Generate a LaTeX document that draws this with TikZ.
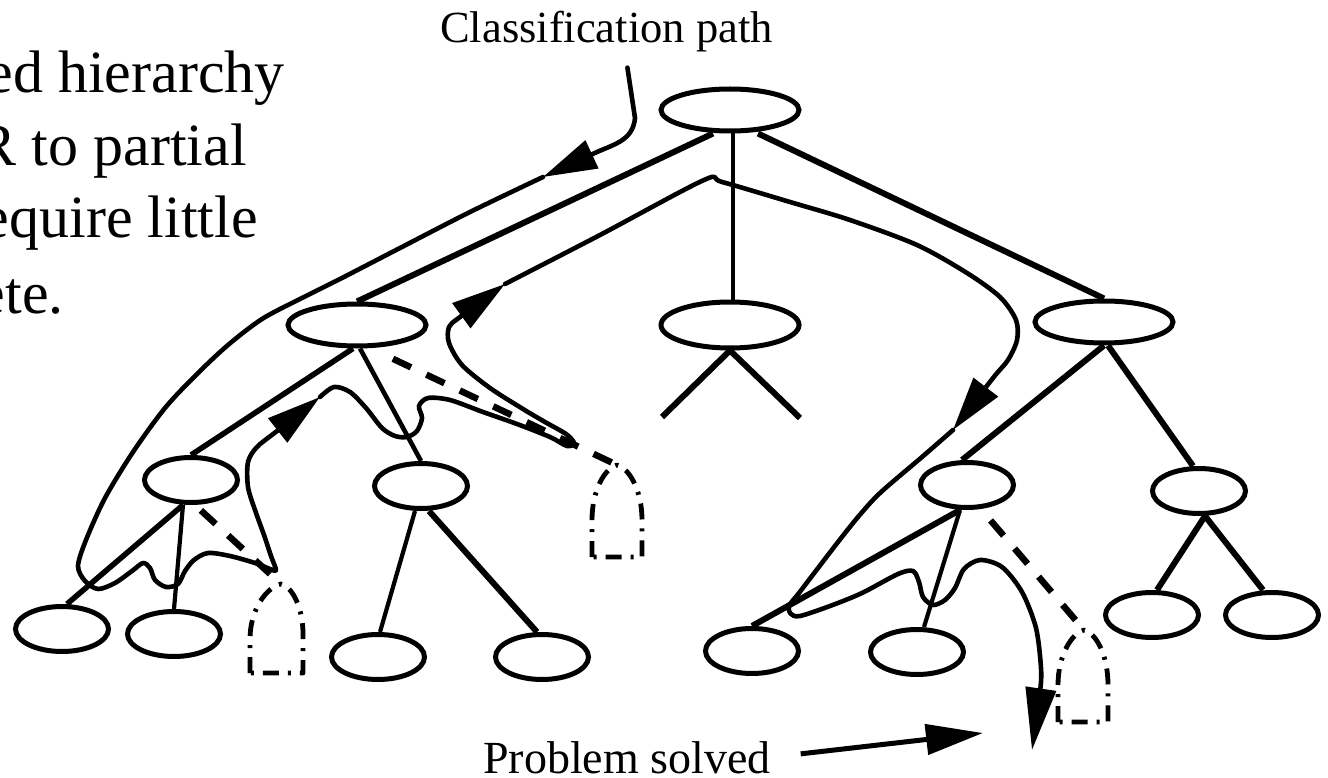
\documentclass[tikz,border=0pt]{standalone}
\usepackage{fontspec}
\setmainfont{Liberation Serif}
\usetikzlibrary{shapes.geometric,arrows.meta}

\begin{document}
\begin{tikzpicture}[x=1pt,y=-1pt,
  bignode/.style={ellipse, draw, fill=white, line width=5pt, minimum width=138pt, minimum height=42pt, inner sep=0pt},
  smallnode/.style={ellipse, draw, fill=white, line width=5pt, minimum width=93pt, minimum height=45pt, inner sep=0pt},
  thickedge/.style={line width=6pt},
  thinedge/.style={line width=4.2pt},
  prunededge/.style={line width=6.5pt, dash pattern=on 20pt off 17pt},
  deadoutline/.style={line width=4.8pt, line join=round, dash pattern=on 16pt off 9pt on 3pt off 9pt},
  trail/.style={line width=4.6pt, line join=round, line cap=round},
  trailtip/.style={-{Triangle[length=54pt,width=30pt]}},
  endtip/.style={-{Triangle[length=62pt,width=30pt]}},
  bigtext/.style={inner sep=0pt, font=\fontsize{60}{72}\selectfont},
  smalltext/.style={inner sep=0pt, anchor=base west}
]
\useasboundingbox (0,0) rectangle (1328,778);
\clip (0,0) rectangle (1328,778);
\fill[white] (0,0) rectangle (1328,778);

% running text at the left edge
\node[bigtext, anchor=base east] (t1) at (285,93) {ed hierarchy};
\node[bigtext, anchor=base east] (t2) at (247,166) {R to partial};
\node[bigtext, anchor=base east] (t3) at (258,238) {equire little};
\node[bigtext, anchor=base east] (t4) at (64,313) {ete.};

% labels
\node[smalltext, font=\fontsize{44.5}{50}\selectfont] (cp) at (440,43) {Classification path};
\node[smalltext, font=\fontsize{46}{52}\selectfont] (ps) at (483,773) {Problem solved};

% tree nodes
\node[bignode] (root) at (730,110) {};
\node[bignode] (A) at (357,325) {};
\node[bignode, minimum height=46pt] (M) at (730,325) {};
\node[bignode] (R) at (1104,322) {};
\node[smallnode] (B) at (191,480) {};
\node[smallnode] (C) at (421,486) {};
\node[smallnode] (D) at (967,485) {};
\node[smallnode] (E) at (1199,491) {};
\node[smallnode] (l1) at (62,629) {};
\node[smallnode] (l2) at (174,634) {};
\node[smallnode] (l3) at (378,657) {};
\node[smallnode] (l4) at (542,657) {};
\node[smallnode] (l5) at (752,651) {};
\node[smallnode] (l6) at (917,652) {};
\node[smallnode] (l7) at (1152,615) {};
\node[smallnode] (l8) at (1272,615) {};

% loose ends and unexplored branches
\coordinate (m1) at (662,417);
\coordinate (m2) at (800,418);
\coordinate (x1) at (281,584);
\coordinate (x2) at (617,465);
\coordinate (x3) at (1084,630);
\coordinate (solvedtip) at (983,733);

% tree edges
\draw[thickedge] ([xshift=-17pt]root.south) -- (A.north);
\draw[thinedge] ([xshift=3pt]root.south) -- ([xshift=3pt]M.north);
\draw[thickedge] ([xshift=28pt]root.south) -- (R.north);
\draw[thickedge] (M.south) -- (m1);
\draw[thickedge] (M.south) -- (m2);
\draw[line width=5.5pt] ([xshift=-4pt]A.south) -- (B.north);
\draw[line width=4.6pt] ([xshift=3pt]A.south) -- (C.north);
\draw[line width=5.5pt] ([xshift=-8pt]B.south) -- ([xshift=5pt]l1.north);
\draw[thinedge] ([xshift=-8pt]B.south) -- (l2.north);
\draw[thinedge] ([xshift=-6pt]C.south) -- ([xshift=2pt]l3.north);
\draw[thickedge] ([xshift=8pt]C.south) -- ([xshift=-5pt]l4.north);
\draw[thickedge] (R.south) -- ([xshift=-5pt]D.north);
\draw[thickedge] ([xshift=4pt]R.south) -- ([xshift=-6pt]E.north);
\draw[thickedge] ([xshift=-7pt]D.south) -- (l5.north);
\draw[thinedge] ([xshift=-7pt]D.south) -- ([xshift=7pt]l6.north);
\draw[thickedge] ([xshift=6pt]E.south) -- ([xshift=5pt]l7.north);
\draw[thickedge] ([xshift=6pt]E.south) -- ([xshift=-9pt]l8.north);

% pruned branches
\draw[prunededge, shorten <=8pt, shorten >=14pt] ([xshift=4pt]B.south) -- (x1);
\draw[prunededge, shorten <=25pt, shorten >=4pt] (A.-60) -- (x2);
\draw[prunededge, shorten <=15pt, shorten >=12pt] (D.-60) -- (x3);

\draw[deadoutline, shift={(x1)}] (-31,89) -- (-31,55) .. controls (-31,25) and (-14,3) .. (0,0)
  .. controls (12,3) and (22,25) .. (22,50) -- (22,89) -- cycle;
\draw[deadoutline, shift={(x2)}] (-25,92) -- (-25,55) .. controls (-25,25) and (-12,3) .. (0,0)
  .. controls (12,3) and (25,25) .. (25,55) -- (25,92) -- cycle;
\draw[deadoutline, shift={(x3)}] (-26,92) -- (-26,55) .. controls (-26,25) and (-12,3) .. (0,0)
  .. controls (12,3) and (24,25) .. (24,55) -- (24,92) -- cycle;

% classification path
\draw[trail, trailtip] ([xshift=21pt,yshift=-15pt]cp.south) -- (635,118)
  .. controls (633,140) and (615,144) .. (597,152) -- (543,177);
\draw[trail, trailtip] plot[smooth, tension=0.5] coordinates {
  (543,177) (470,212) (400,248) (340,279) (300,299) (262,319) (228,345)
  (196,375) (165,408) (133,452) (105,498) (86,540) (78,566) (85,581)
  (98,589) (115,583) (132,571) (143,563) (150,568) (155,580) (166,587)
  (178,584) (185,571) (194,560) (208,553) (230,556) (255,563) (270,569)
  (276,570) (271,556) (264,535) (255,510) (248,487) (248,462) (257,447)
  (277,431) (320,397)};
\draw[trail, trailtip] plot[smooth, tension=0.5] coordinates {
  (320,397) (334,387) (350,392) (366,408) (382,428) (395,436) (407,437)
  (417,431) (422,418) (419,406) (428,398) (450,400) (483,412) (517,424)
  (550,437) (567,446) (574,443) (566,434) (545,422) (523,409) (490,388)
  (462,365) (449,343) (449,327) (460,317) (505,284)};
\draw[trail, trailtip] plot[smooth, tension=0.5] coordinates {
  (505,284) (600,235) (704,180) (722,182) (790,202) (850,220) (917,245)
  (967,273) (1000,297) (1016,320) (1017,340) (1008,360) (993,378) (953,430)};
\draw[trail, endtip] plot[smooth, tension=0.5] coordinates {
  (953,430) (922,457) (880,493) (858,517) (838,542) (815,572) (799,593)
  (789,606) (791,614) (800,616) (830,606) (862,593) (898,574) (913,571)
  (919,582) (923,597) (933,605) (945,600) (955,588) (964,569) (980,560)
  (1002,567) (1022,592) (1036,628) (1041,668) (1040,692) (1032,750)};

% pointer to the solution
\draw[line width=5pt, -{Triangle[length=57pt,width=30pt]}, shorten <=30pt] (ps.east) -- (solvedtip);
\end{tikzpicture}
\end{document}
